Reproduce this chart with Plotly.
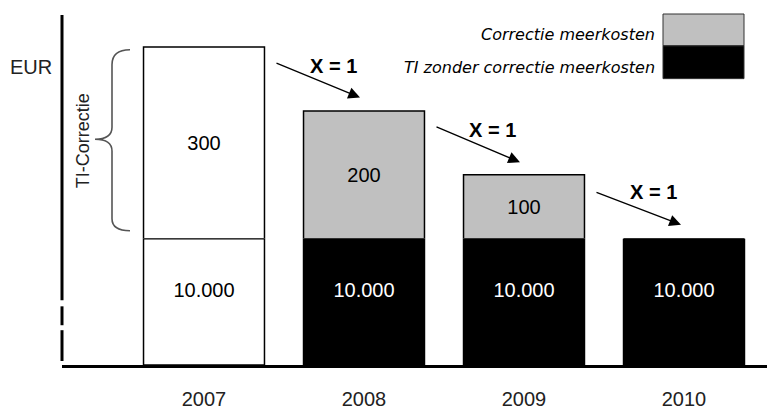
import plotly.graph_objects as go

# ---- data ----
years = ["2007", "2008", "2009", "2010"]
ti_base = [10000, 10000, 10000, 10000]          # TI zonder correctie meerkosten
correctie = [300, 200, 100, 0]                   # Correctie meerkosten
base_colors = ["white", "black", "black", "black"]
top_colors = ["white", "#c0c0c0", "#c0c0c0", "#c0c0c0"]
base_text_colors = ["black", "white", "white", "white"]
legend_labels = ["Correctie meerkosten", "TI zonder correctie meerkosten"]
arrow_label = "X = 1"
y_unit = "EUR"
brace_label = "TI-Correctie"

# ---- geometry helpers (window pixels -> paper); page has an 8px body margin ----
OFF = 8
W, H = 775 - OFF, 410 - OFF
PL, PR, PT, PB = 62, 775, 15, 367           # plot area in window pixels
L, R, T, B = PL - OFF, 0, PT - OFF, 410 - PB
PW, PH = PR - PL, PB - PT


def fx(p):
    return (p - PL) / PW


def fy(p):
    return (PB - p) / PH


split = fy(240)          # axis break position
top_range = 350          # correction scale above break

FONT = "Liberation Sans, Arial, sans-serif"

fig = go.Figure()
fig.add_trace(go.Bar(
    x=years, y=ti_base, name=legend_labels[1], yaxis="y",
    marker=dict(color=base_colors, line=dict(color="black", width=1.5)),
    showlegend=False, hoverinfo="skip",
))
fig.add_trace(go.Bar(
    x=years, y=correctie, name=legend_labels[0], yaxis="y2",
    marker=dict(color=top_colors, line=dict(color="black", width=1.5)),
    text=[str(v) if v else "" for v in correctie],
    textposition="inside", insidetextanchor="middle", textangle=0,
    constraintext="none",
    textfont=dict(family=FONT, size=20, color="black"),
    showlegend=False, hoverinfo="skip",
))
# base value labels, sitting just above the middle of each base bar
fig.add_trace(go.Scatter(
    x=years, y=[v / 2 for v in ti_base], yaxis="y", mode="text",
    text=[f"{v:,}".replace(",", ".") for v in ti_base],
    textposition="top center",
    textfont=dict(family=FONT, size=20, color=base_text_colors),
    showlegend=False, hoverinfo="skip", cliponaxis=False,
))

annotations = []
# arrows "X = 1" (head px, tail offset px, label center px)
arrows = [((360, 98), (-85, -35), (333, 66)),
          ((520, 163), (-85, -36), (492, 131)),
          ((681, 226), (-86, -33), (653, 193))]
for (hx, hy), (ax, ay), (tx, ty) in arrows:
    annotations.append(dict(
        x=fx(hx), y=fy(hy), xref="paper", yref="paper",
        ax=ax, ay=ay, axref="pixel", ayref="pixel",
        showarrow=True, arrowhead=2, arrowsize=1.8, arrowwidth=1.3,
        arrowcolor="black", standoff=0, text="",
    ))
    annotations.append(dict(
        x=fx(tx), y=fy(ty), xref="paper", yref="paper",
        xanchor="center", yanchor="middle", showarrow=False,
        text=f"<b>{arrow_label}</b>",
        font=dict(family=FONT, size=20, color="black"),
    ))

# EUR and brace label
annotations.append(dict(x=fx(31), y=fy(67), xref="paper", yref="paper",
                        xanchor="center", yanchor="middle",
                        showarrow=False, text=y_unit,
                        font=dict(family=FONT, size=20, color="#222")))
annotations.append(dict(x=fx(83), y=fy(142), xref="paper", yref="paper",
                        xanchor="center", yanchor="middle",
                        showarrow=False, text=brace_label, textangle=-90,
                        font=dict(family=FONT, size=18, color="#222")))

# legend texts
for lbl, cy in zip(legend_labels, [35, 68]):
    annotations.append(dict(
        x=fx(657), y=fy(cy), xref="paper", yref="paper",
        xanchor="right", yanchor="middle", showarrow=False,
        text=f"<i>{lbl}</i>",
        font=dict(family="DejaVu Sans, Verdana, sans-serif", size=16, color="black"),
    ))

shapes = []
# y-axis line with break
for y0, y1 in [(15, 302), (308, 327), (332, 363)]:
    shapes.append(dict(type="line", xref="paper", yref="paper",
                       x0=fx(62), x1=fx(62), y0=fy(y0), y1=fy(y1),
                       line=dict(color="black", width=3)))
# legend swatches
shapes.append(dict(type="rect", xref="paper", yref="paper",
                   x0=fx(663), x1=fx(744), y0=fy(46), y1=fy(14),
                   fillcolor="#c0c0c0", line=dict(color="#333", width=1)))
shapes.append(dict(type="rect", xref="paper", yref="paper",
                   x0=fx(663), x1=fx(744), y0=fy(79), y1=fy(46),
                   fillcolor="black", line=dict(color="#333", width=1)))
# brace
pts = [(130, 50), (112, 50), (112, 65), (112, 128), (112, 140), (95, 140),
       (112, 140), (112, 152), (112, 220), (112, 232), (130, 232)]
P = [(fx(a), fy(b)) for a, b in pts]
path = (f"M {P[0][0]},{P[0][1]} Q {P[1][0]},{P[1][1]} {P[2][0]},{P[2][1]} "
        f"L {P[3][0]},{P[3][1]} Q {P[4][0]},{P[4][1]} {P[5][0]},{P[5][1]} "
        f"Q {P[6][0]},{P[6][1]} {P[7][0]},{P[7][1]} "
        f"L {P[8][0]},{P[8][1]} Q {P[9][0]},{P[9][1]} {P[10][0]},{P[10][1]}")
shapes.append(dict(type="path", xref="paper", yref="paper", path=path,
                   line=dict(color="#555", width=1.6)))

x0 = -(204 - PL) / 160
fig.update_layout(
    width=W, height=H,
    margin=dict(l=L, r=R, t=T, b=B, pad=0),
    paper_bgcolor="white", plot_bgcolor="white",
    barmode="overlay", bargap=0.244,
    showlegend=False,
    xaxis=dict(type="category", range=[x0, x0 + PW / 160],
               showline=True, linecolor="black", linewidth=3,
               showgrid=False, zeroline=False, ticks="", ticklabelstandoff=14,
               tickfont=dict(family=FONT, size=20, color="#222"),
               anchor="y", fixedrange=True),
    yaxis=dict(domain=[0, split], range=[0, ti_base[0]], visible=False,
               showgrid=False, fixedrange=True),
    yaxis2=dict(domain=[split, 1], range=[0, top_range], visible=False,
                showgrid=False, anchor="x", fixedrange=True),
    annotations=annotations,
    shapes=shapes,
)

fig.write_html("out.html")
